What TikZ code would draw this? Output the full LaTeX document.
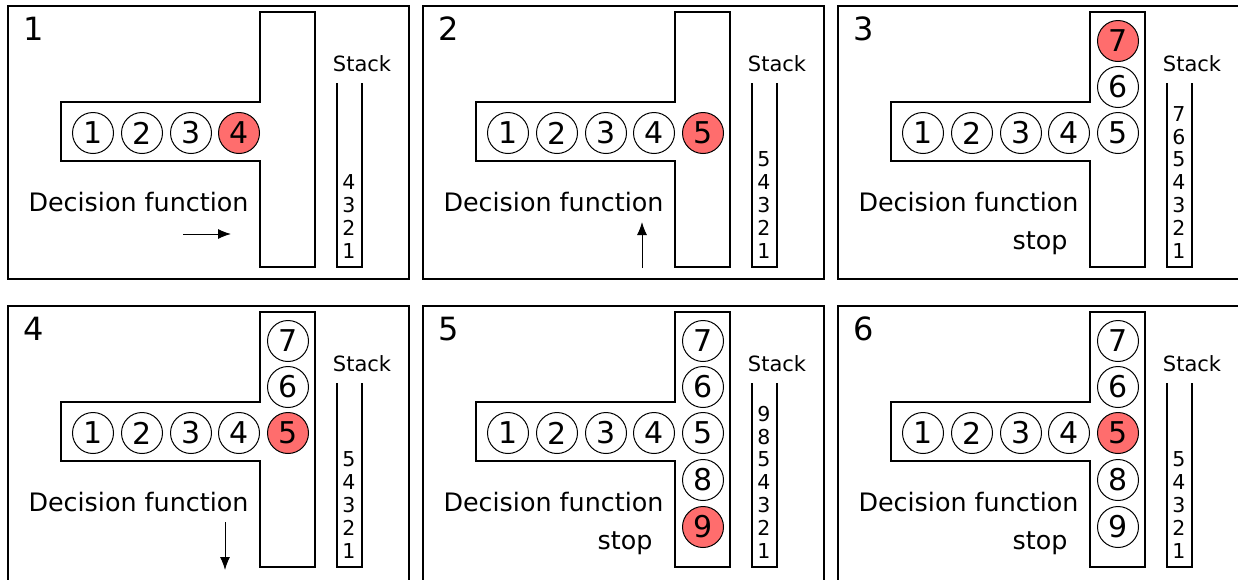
\documentclass[tikz,border=0pt]{standalone}
\usepackage{fontspec}
\setmainfont{DejaVu Sans}
\usetikzlibrary{arrows.meta}
\definecolor{hl}{RGB}{255,109,109}
\tikzset{
  frame/.style={draw, line width=2pt},
  tshape/.style={draw, line width=1.4pt, line join=miter},
  ball/.style={circle, draw, line width=1pt, minimum size=41pt, inner sep=0pt, fill=white, font=\fontsize{30}{30}\selectfont},
  hot/.style={fill=hl},
  stackline/.style={draw, line width=1.3pt},
  panellabel/.style={anchor=base, inner sep=0pt, font=\fontsize{32}{32}\selectfont},
  txt/.style={anchor=base, inner sep=0pt, font=\fontsize{25.4}{25.4}\selectfont},
  stacktitle/.style={anchor=base, inner sep=0pt, font=\fontsize{21}{21}\selectfont},
  stacknum/.style={anchor=base, inner sep=0pt, font=\fontsize{20.5}{20.5}\selectfont},
  flow/.style={-{Latex[length=13pt,width=10pt]}, line width=1pt}
}
\def\fh{273}
% #1 x, #2 y, #3 label, #4 circles, #5 highlighted, #6 stack (bottom to top), #7 extra
\newcommand\Panel[7]{%
  \begin{scope}[shift={(#1,#2)}]
    \draw[frame] (0,0) rectangle (401,\fh);
    \node[panellabel] (p#3lab) at (25.5,34) {#3};
    \draw[tshape] (53,96) -- (252,96) -- (252,6) -- (307,6) -- (307,261) -- (252,261) -- (252,155) -- (53,155) -- cycle;
    \coordinate (c1) at (85,127);
    \coordinate (c2) at (134,127);
    \coordinate (c3) at (183,127);
    \coordinate (c4) at (231,127);
    \coordinate (c5) at (280,127);
    \coordinate (c6) at (280,81);
    \coordinate (c7) at (280,35);
    \coordinate (c8) at (280,174);
    \coordinate (c9) at (280,221);
    \foreach \i in {#4}{%
      \ifnum\i=#5\relax
        \node[ball,hot] (p#3n\i) at (c\i) {\i};
      \else
        \node[ball] (p#3n\i) at (c\i) {\i};
      \fi}
    \node[txt] (p#3dec) at (130.5,205) {Decision function};
    \node[stacktitle] (p#3st) at (354,65) {Stack};
    \draw[stackline] (329,77) -- (329,261) -- (354,261) -- (354,77);
    \foreach \v [count=\k] in {#6}{%
      \node[stacknum] (p#3s\k) at (341,{252-(\k-1)*22.8}) {\v};}
    #7
  \end{scope}}

\begin{document}
\begin{tikzpicture}[x=1pt,y=-1pt]
\useasboundingbox (0,0) rectangle (1238,579);
\clip (0,0) rectangle (1238,579);
\fill[white] (0,0) rectangle (1238,579);
\Panel{8}{6}{1}{1,2,3,4}{4}{1,2,3,4}{%
  \coordinate (p1a) at (175,228); \coordinate (p1b) at (223,228);
  \draw[flow] (p1a) -- (p1b);}
\Panel{423}{6}{2}{1,2,3,4,5}{5}{1,2,3,4,5}{%
  \coordinate (p2a) at (219,262); \coordinate (p2b) at (219,216);
  \draw[flow] (p2a) -- (p2b);}
\Panel{838}{6}{3}{1,2,3,4,5,6,7}{7}{1,2,3,4,5,6,7}{%
  \node[txt] (p3stop) at (202,243) {stop};}
\def\fh{290}
\Panel{8}{306}{4}{1,2,3,4,5,6,7}{5}{1,2,3,4,5}{%
  \coordinate (p4a) at (217,216); \coordinate (p4b) at (217,264);
  \draw[flow] (p4a) -- (p4b);}
\Panel{423}{306}{5}{1,2,3,4,5,6,7,8,9}{9}{1,2,3,4,5,8,9}{%
  \node[txt] (p5stop) at (202,243) {stop};}
\Panel{838}{306}{6}{1,2,3,4,5,6,7,8,9}{5}{1,2,3,4,5}{%
  \node[txt] (p6stop) at (202,243) {stop};}
\end{tikzpicture}
\end{document}
